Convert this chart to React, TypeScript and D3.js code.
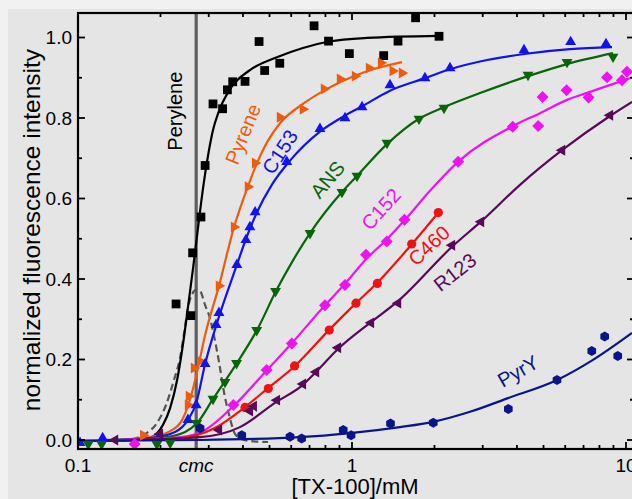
import React from 'react';
import * as d3 from 'd3';

type Pt = [number, number];

// [TX-100] concentration (mM) and normalized fluorescence intensity
const peryleneData: Pt[] = [
  [0.228, 0.338], [0.258, 0.309], [0.262, 0.465], [0.281, 0.554], [0.291, 0.682],
  [0.311, 0.835], [0.337, 0.823], [0.351, 0.87], [0.367, 0.89], [0.407, 0.891],
  [0.458, 0.99], [0.48, 0.918], [0.545, 0.936], [0.727, 1.029], [0.821, 0.991],
  [0.978, 0.96], [1.305, 0.955], [1.472, 0.991], [1.706, 1.049], [2.078, 1.003],
];
const peryleneFit: Pt[] = [
  [0.1017, -0.002], [0.155, -0.001], [0.183, 0.005], [0.204, 0.037], [0.217, 0.08],
  [0.23, 0.149], [0.242, 0.241], [0.252, 0.33], [0.263, 0.427], [0.274, 0.526],
  [0.286, 0.626], [0.298, 0.705], [0.311, 0.77], [0.326, 0.815], [0.359, 0.872],
  [0.424, 0.919], [0.532, 0.951], [0.662, 0.974], [0.824, 0.99], [1.134, 0.999], [2.078, 1.004],
];

const pyreneData: Pt[] = [
  [0.173, 0.012], [0.252, 0.087], [0.254, 0.109], [0.265, 0.179], [0.279, 0.196],
  [0.327, 0.383], [0.371, 0.529], [0.417, 0.629], [0.443, 0.688], [0.546, 0.802],
  [0.662, 0.822], [0.79, 0.872], [0.904, 0.897], [1.025, 0.904], [1.154, 0.924],
  [1.276, 0.937], [1.408, 0.917], [1.522, 0.912],
];
const pyreneFit: Pt[] = [
  [0.131, 0.0], [0.183, 0.0075], [0.217, 0.022], [0.24, 0.05], [0.256, 0.099],
  [0.272, 0.169], [0.291, 0.261], [0.327, 0.383], [0.371, 0.529], [0.417, 0.63],
  [0.45, 0.688], [0.49, 0.74], [0.546, 0.787], [0.662, 0.835], [0.79, 0.868],
  [0.904, 0.889], [1.154, 0.918], [1.522, 0.939],
];

const c153Data: Pt[] = [
  [0.1017, -0.007], [0.123, 0.005], [0.252, 0.05], [0.27, 0.087], [0.291, 0.189],
  [0.319, 0.286], [0.327, 0.316], [0.38, 0.435], [0.41, 0.497], [0.424, 0.529],
  [0.443, 0.566], [0.578, 0.691], [0.764, 0.773], [0.943, 0.8], [1.088, 0.827],
  [1.376, 0.882], [1.846, 0.899], [2.279, 0.924], [4.244, 0.969], [6.28, 0.989], [8.453, 0.984],
];
const c153Fit: Pt[] = [
  [0.12, 0.0], [0.183, 0.005], [0.226, 0.02], [0.252, 0.05], [0.27, 0.092],
  [0.291, 0.189], [0.324, 0.298], [0.38, 0.435], [0.413, 0.505], [0.45, 0.566],
  [0.511, 0.635], [0.594, 0.694], [0.764, 0.766], [0.943, 0.806], [1.088, 0.829],
  [1.376, 0.868], [1.846, 0.899], [2.279, 0.921], [3.11, 0.944], [4.244, 0.959],
  [6.246, 0.971], [8.89, 0.976],
];

const ansData: Pt[] = [
  [0.109, -0.01], [0.122, -0.01], [0.194, -0.01], [0.217, -0.007], [0.271, 0.042],
  [0.311, 0.102], [0.344, 0.144], [0.379, 0.191], [0.449, 0.273], [0.526, 0.37],
  [0.703, 0.514], [0.919, 0.616], [1.043, 0.656], [1.342, 0.738], [1.756, 0.798],
  [2.167, 0.825], [4.389, 0.907], [6.092, 0.939], [8.967, 0.952],
];
const ansFit: Pt[] = [
  [0.131, 0.0], [0.199, 0.005], [0.246, 0.02], [0.272, 0.042], [0.311, 0.102],
  [0.38, 0.191], [0.45, 0.273], [0.528, 0.37], [0.604, 0.442], [0.703, 0.514],
  [0.919, 0.616], [1.043, 0.656], [1.342, 0.735], [1.756, 0.798], [2.167, 0.827],
  [2.932, 0.862], [4.389, 0.904], [6.092, 0.934], [8.967, 0.961],
];

const c152Data: Pt[] = [
  [0.161, -0.01], [0.369, 0.087], [0.488, 0.174], [0.603, 0.24], [0.797, 0.335],
  [0.943, 0.385], [1.125, 0.46], [1.339, 0.493], [1.554, 0.547], [2.44, 0.691],
  [3.86, 0.778], [4.78, 0.78], [4.96, 0.852], [6.07, 0.869], [7.3, 0.851],
  [8.53, 0.901], [9.67, 0.894], [10.08, 0.915],
];
const c152Fit: Pt[] = [
  [0.142, 0.0], [0.236, 0.007], [0.291, 0.025], [0.369, 0.084], [0.49, 0.174],
  [0.604, 0.241], [0.797, 0.335], [0.943, 0.388], [1.125, 0.449], [1.342, 0.499],
  [1.561, 0.547], [1.926, 0.619], [2.437, 0.691], [3.869, 0.78], [4.855, 0.812],
  [6.092, 0.845], [7.39, 0.865], [10.34, 0.899],
];

const c460Data: Pt[] = [
  [0.407, 0.081], [0.495, 0.128], [0.617, 0.184], [0.826, 0.273], [1.034, 0.34],
  [1.237, 0.389], [1.651, 0.487], [2.065, 0.565],
];
const c460Fit: Pt[] = [
  [0.142, 0.0], [0.236, 0.005], [0.316, 0.03], [0.407, 0.082], [0.494, 0.129],
  [0.619, 0.184], [0.824, 0.273], [1.034, 0.34], [1.234, 0.39], [1.656, 0.487], [2.06, 0.564],
];

const r123Data: Pt[] = [
  [0.1365, 0.0], [0.199, 0.015], [0.327, 0.025], [0.424, 0.072], [0.438, 0.084],
  [0.532, 0.099], [0.662, 0.139], [0.739, 0.169], [0.889, 0.229], [1.173, 0.291],
  [1.472, 0.34], [2.317, 0.484], [2.957, 0.542], [5.842, 0.72], [8.742, 0.807],
];
const r123Fit: Pt[] = [
  [0.155, 0.0], [0.279, 0.007], [0.39, 0.032], [0.528, 0.094], [0.662, 0.137],
  [0.739, 0.169], [0.889, 0.226], [1.163, 0.291], [1.472, 0.345], [2.317, 0.48],
  [2.982, 0.545], [4.104, 0.634], [5.842, 0.72], [8.742, 0.805], [10.52, 0.84],
];

const pyrYData: Pt[] = [
  [0.279, 0.029], [0.396, 0.012], [0.594, 0.008], [0.655, 0.004], [0.929, 0.025],
  [0.992, 0.012], [1.382, 0.041], [1.98, 0.043], [3.72, 0.077], [5.6, 0.149],
  [7.5, 0.221], [8.36, 0.257], [9.33, 0.209],
];
const pyrYFit: Pt[] = [
  [0.1017, -0.002], [0.279, 0.0], [0.646, 0.007], [0.983, 0.017], [1.497, 0.032],
  [1.975, 0.045], [2.696, 0.07], [3.71, 0.104], [5.601, 0.149], [7.578, 0.199], [10.52, 0.266],
];

// first derivative of the perylene response (dashed)
const derivative: Pt[] = [
  [0.131, -0.002], [0.151, 0.0], [0.176, 0.015], [0.194, 0.042], [0.2095, 0.087],
  [0.224, 0.149], [0.236, 0.206], [0.244, 0.266], [0.252, 0.328], [0.261, 0.363],
  [0.27, 0.373], [0.279, 0.37], [0.291, 0.335], [0.303, 0.303], [0.316, 0.248],
  [0.327, 0.194], [0.341, 0.119], [0.356, 0.062], [0.377, 0.012], [0.417, -0.002], [0.494, -0.005],
];

const CMC = 0.27;
const xMajor = [0.1, 1, 10];
const xMajorLabels = ['0.1', '1', '10'];
const xMinor = [0.2, 0.3, 0.4, 0.5, 0.6, 0.7, 0.8, 0.9, 2, 3, 4, 5, 6, 7, 8, 9];
const yMajor = [0, 0.2, 0.4, 0.6, 0.8, 1.0];
const yMinor = [0.1, 0.3, 0.5, 0.7, 0.9];

type Marker = 'square' | 'tri-up' | 'tri-down' | 'tri-left' | 'tri-right' | 'diamond' | 'circle' | 'hexagon';

interface Series {
  name: string;
  color: string;
  marker: Marker;
  data: Pt[];
  fit: Pt[];
  label: Pt; // label anchor in data units
  angle: number;
}

const series: Series[] = [
  { name: 'Perylene', color: '#000000', marker: 'square', data: peryleneData, fit: peryleneFit, label: [0.226, 0.817], angle: -90 },
  { name: 'Pyrene', color: '#ef5b0c', marker: 'tri-right', data: pyreneData, fit: pyreneFit, label: [0.4, 0.76], angle: -68 },
  { name: 'C153', color: '#1212ee', marker: 'tri-up', data: c153Data, fit: c153Fit, label: [0.546, 0.7155], angle: -57 },
  { name: 'ANS', color: '#0b640b', marker: 'tri-down', data: ansData, fit: ansFit, label: [0.814, 0.647], angle: -50 },
  { name: 'C152', color: '#ee12ee', marker: 'diamond', data: c152Data, fit: c152Fit, label: [1.276, 0.574], angle: -48 },
  { name: 'C460', color: '#ee1212', marker: 'circle', data: c460Data, fit: c460Fit, label: [1.91, 0.483], angle: -43 },
  { name: 'R123', color: '#570a57', marker: 'tri-left', data: r123Data, fit: r123Fit, label: [2.376, 0.417], angle: -38 },
  { name: 'PyrY', color: '#0c148a', marker: 'hexagon', data: pyrYData, fit: pyrYFit, label: [4.035, 0.171], angle: -30 },
];

const W = 632;
const H = 499;
const FONT = '"Liberation Sans", Arial, Helvetica, sans-serif';
const frame = { left: 78, top: 13, right: 634, bottom: 449 };

const x = d3.scaleLog().domain([0.1, 10]).range([78, 626]);
const y = d3.scaleLinear().domain([0, 1]).range([440, 37.5]);

const line = d3
  .line<Pt>()
  .x((d) => x(d[0]))
  .y((d) => y(d[1]))
  .curve(d3.curveMonotoneX);

function triPath(r: number, rot: number): string {
  const pts = [0, 120, 240].map((a) => {
    const t = ((a + rot - 90) * Math.PI) / 180;
    return [r * Math.cos(t), r * Math.sin(t)];
  });
  return `M${pts.map((p) => p.join(',')).join('L')}Z`;
}

function hexPath(r: number): string {
  const pts = d3.range(6).map((i) => {
    const t = (Math.PI / 3) * i + Math.PI / 6;
    return [r * Math.cos(t), r * Math.sin(t)];
  });
  return `M${pts.map((p) => p.join(',')).join('L')}Z`;
}

const markerPaths: Record<Marker, string> = {
  square: 'M-4.4,-4.4H4.4V4.4H-4.4Z',
  'tri-up': triPath(6.3, 0),
  'tri-down': triPath(6.3, 180),
  'tri-left': triPath(6.3, 270),
  'tri-right': triPath(6.3, 90),
  diamond: 'M0,-6L6,0L0,6L-6,0Z',
  circle: d3.symbol().type(d3.symbolCircle).size(Math.PI * 4.6 * 4.6)() as string,
  hexagon: hexPath(5),
};

export default function App() {
  return (
    <div style={{ position: 'absolute', left: 0, top: 0 }}>
      <svg width={W} height={H} style={{ display: 'block' }} fontFamily={FONT}>
        <defs>
          <clipPath id="plot-clip">
            <rect x={frame.left} y={frame.top} width={frame.right - frame.left} height={frame.bottom - frame.top} />
          </clipPath>
        </defs>
        <rect x={0} y={0} width={W} height={H} fill="#f1f1f1" />
        <rect x={8} y={9} width={W - 8} height={H - 9} fill="#e5e5e5" />

        {/* cmc marker line */}
        <line x1={x(CMC)} x2={x(CMC)} y1={frame.top} y2={frame.bottom} stroke="#5e5e5e" strokeWidth={3.2} />

        <g clipPath="url(#plot-clip)">
          <path d={line(derivative) ?? ''} fill="none" stroke="#555555" strokeWidth={2.2} strokeDasharray="7,4" />
          {series.map((s) => (
            <path key={s.name} d={line(s.fit) ?? ''} fill="none" stroke={s.color} strokeWidth={2.2} />
          ))}
          {series.map((s) => (
            <g key={s.name + '-pts'} fill={s.color}>
              {s.data.map((d, i) => (
                <path key={i} d={markerPaths[s.marker]} transform={`translate(${x(d[0])},${y(d[1])})`} />
              ))}
            </g>
          ))}
        </g>

        {/* series labels */}
        {series.map((s) => (
          <text
            key={s.name + '-label'}
            transform={`translate(${x(s.label[0])},${y(s.label[1])}) rotate(${s.angle})`}
            textAnchor="middle"
            dominantBaseline="central"
            fontSize={20}
            fill={s.color}
          >
            {s.name}
          </text>
        ))}

        {/* frame */}
        <rect
          x={frame.left}
          y={frame.top}
          width={frame.right - frame.left}
          height={frame.bottom - frame.top}
          fill="none"
          stroke="#000"
          strokeWidth={2.2}
        />

        {/* x ticks, bottom and top; y ticks, left and right */}
        <g stroke="#000" strokeWidth={1.8}>
          {xMajor.map((v) => (
            <g key={'xM' + v}>
              <line x1={x(v)} x2={x(v)} y1={frame.bottom} y2={frame.bottom - 7} />
              <line x1={x(v)} x2={x(v)} y1={frame.top} y2={frame.top + 7} />
            </g>
          ))}
          {xMinor.map((v) => (
            <g key={'xm' + v}>
              <line x1={x(v)} x2={x(v)} y1={frame.bottom} y2={frame.bottom - 4} />
              <line x1={x(v)} x2={x(v)} y1={frame.top} y2={frame.top + 4} />
            </g>
          ))}
          {yMajor.map((v) => (
            <g key={'yM' + v}>
              <line x1={frame.left} x2={frame.left + 7} y1={y(v)} y2={y(v)} />
              <line x1={frame.right} x2={frame.right - 7} y1={y(v)} y2={y(v)} />
            </g>
          ))}
          {yMinor.map((v) => (
            <g key={'ym' + v}>
              <line x1={frame.left} x2={frame.left + 4} y1={y(v)} y2={y(v)} />
              <line x1={frame.right} x2={frame.right - 4} y1={y(v)} y2={y(v)} />
            </g>
          ))}
        </g>

        {/* tick labels */}
        <g fontSize={19} fill="#000">
          {yMajor.map((v) => (
            <text key={'yl' + v} x={72} y={y(v)} textAnchor="end" dominantBaseline="central">
              {v.toFixed(1)}
            </text>
          ))}
          {xMajor.map((v, i) => (
            <text key={'xl' + v} x={x(v)} y={472} textAnchor="middle">
              {xMajorLabels[i]}
            </text>
          ))}
          <text x={x(CMC)} y={472} textAnchor="middle" fontStyle="italic">
            cmc
          </text>
        </g>

        {/* axis titles */}
        <text x={355} y={494} textAnchor="middle" fontSize={22} fill="#000">
          [TX-100]/mM
        </text>
        <text
          transform={`translate(40,${(frame.top + frame.bottom) / 2 - 1}) rotate(-90)`}
          textAnchor="middle"
          fontSize={24.5}
          fill="#000"
        >
          normalized fluorescence intensity
        </text>
      </svg>
    </div>
  );
}
